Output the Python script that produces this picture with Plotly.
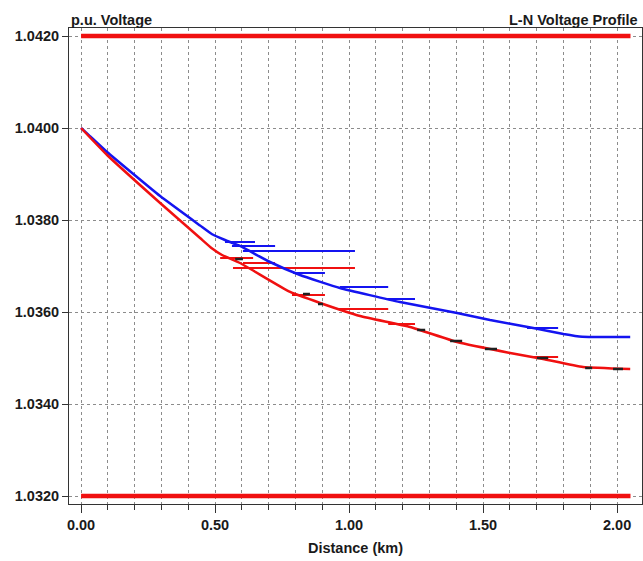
import plotly.graph_objects as go

# Main feeder profiles (distance km, voltage p.u.)
blue_km = [0.0, 0.030, 0.097, 0.295, 0.444, 0.489, 0.537, 0.593, 0.705, 0.817, 0.966, 1.190, 1.403, 1.526,
           1.687, 1.800, 1.870, 2.049]
blue_v = [1.04000, 1.039840, 1.039478, 1.038520, 1.037880, 1.037690, 1.037565, 1.037435, 1.037087, 1.036804,
          1.036522, 1.036217, 1.035978, 1.035826, 1.035652, 1.035520, 1.035460, 1.035457]

red_km = [0.0, 0.030, 0.097, 0.295, 0.444, 0.489, 0.526, 0.593, 0.780, 0.892, 1.041, 1.228, 1.403, 1.601,
          1.724, 1.873, 2.049]
red_v = [1.04000, 1.039815, 1.039413, 1.038370, 1.037609, 1.037380, 1.037239, 1.037065, 1.036435, 1.036196,
         1.035913, 1.035674, 1.035348, 1.035109, 1.034978, 1.034804, 1.034761]

# Lateral branches: start km, end km, voltage
blue_br_start = [0.537, 0.563, 0.604, 0.791, 0.966, 1.142, 1.664]
blue_br_end = [0.649, 0.724, 1.022, 0.910, 1.146, 1.246, 1.780]
blue_br_v = [1.037522, 1.037435, 1.037326, 1.036848, 1.036543, 1.036283, 1.035652]

red_br_start = [0.519, 0.604, 0.567, 0.787, 0.955, 1.146, 1.687]
red_br_end = [0.642, 0.724, 1.022, 0.910, 1.146, 1.246, 1.780]
red_br_v = [1.037174, 1.037065, 1.036957, 1.036370, 1.036065, 1.035739, 1.035022]

# Third phase (black) visible only in short pieces
black_start = [0.575, 0.828, 0.884, 1.254, 1.377, 1.507, 1.701, 1.881, 1.985]
black_end = [0.604, 0.854, 0.903, 1.284, 1.422, 1.552, 1.743, 1.907, 2.022]
black_v = [1.037152, 1.036391, 1.036174, 1.035609, 1.035370, 1.035196, 1.035000, 1.034783, 1.034761]

# Voltage limits
limit_km = [0.0, 2.05]
upper_limit = 1.0420
lower_limit = 1.0320

y_ticks = [1.0320, 1.0340, 1.0360, 1.0380, 1.0400, 1.0420]
x_ticks = [0.0, 0.5, 1.0, 1.5, 2.0]


def segs(starts, ends, vals):
    xs, ys = [], []
    for a, b, v in zip(starts, ends, vals):
        xs += [a, b, None]
        ys += [v, v, None]
    return xs, ys


fig = go.Figure()
fig.add_trace(go.Scatter(x=limit_km, y=[upper_limit] * 2, mode="lines",
                         line=dict(color="#f01010", width=4.5), hoverinfo="skip"))
fig.add_trace(go.Scatter(x=limit_km, y=[lower_limit] * 2, mode="lines",
                         line=dict(color="#f01010", width=4.5), hoverinfo="skip"))

bx, by = segs(blue_br_start, blue_br_end, blue_br_v)
fig.add_trace(go.Scatter(x=bx, y=by, mode="lines", line=dict(color="#1414f0", width=2)))
rx, ry = segs(red_br_start, red_br_end, red_br_v)
fig.add_trace(go.Scatter(x=rx, y=ry, mode="lines", line=dict(color="#f01010", width=2)))

fig.add_trace(go.Scatter(x=blue_km, y=blue_v, mode="lines",
                         line=dict(color="#1414f0", width=2.5, shape="spline", smoothing=0.4)))
fig.add_trace(go.Scatter(x=red_km, y=red_v, mode="lines",
                         line=dict(color="#f01010", width=2.5, shape="spline", smoothing=0.4)))

kx, ky = segs(black_start, black_end, black_v)
fig.add_trace(go.Scatter(x=kx, y=ky, mode="lines", line=dict(color="#202020", width=2.5)))

font_b = dict(family="Liberation Sans, Arial", size=14, color="#1a1a1a", weight="bold")
font_t = dict(family="Liberation Sans, Arial", size=14.5, color="#1a1a1a", weight="bold")

fig.update_layout(
    width=643, height=561,
    margin=dict(l=69, r=1, t=28, b=57),
    paper_bgcolor="white", plot_bgcolor="white",
    showlegend=False,
    font=font_b,
    xaxis=dict(
        range=[-0.045, 2.093],
        tickvals=x_ticks, ticktext=[f"{v:.2f}" for v in x_ticks],
        ticks="outside", ticklen=8, tickcolor="#333", tickwidth=1,
        showgrid=True, gridcolor="#8c8c8c", griddash="3px,3px", gridwidth=1,
        minor=dict(dtick=0.1, tick0=0, ticks="outside", ticklen=5, tickcolor="#333",
                   showgrid=True, gridcolor="#8c8c8c", griddash="3px,3px", gridwidth=1),
        showline=True, linecolor="#333", linewidth=1, mirror=True,
        zeroline=False,
        tickfont=font_t,
        title=dict(text="Distance (km)", font=font_t, standoff=10),
    ),
    yaxis=dict(
        range=[1.031826, 1.042174],
        tickvals=y_ticks, ticktext=[f"{v:.4f}" for v in y_ticks],
        ticks="outside", ticklen=6, tickcolor="#333", tickwidth=1,
        showgrid=True, gridcolor="#8c8c8c", griddash="3px,3px", gridwidth=1,
        showline=True, linecolor="#333", linewidth=1, mirror=True,
        zeroline=False,
        tickfont=font_t,
    ),
    annotations=[
        dict(text="p.u. Voltage", xref="paper", yref="paper", x=0, y=1,
             xanchor="left", yanchor="bottom", showarrow=False, font=font_t, yshift=-2),
        dict(text="L-N Voltage Profile", xref="paper", yref="paper", x=1, y=1,
             xanchor="right", yanchor="bottom", showarrow=False, font=font_t, yshift=-2, xshift=-2),
    ],
)

fig.write_html("out.html")
